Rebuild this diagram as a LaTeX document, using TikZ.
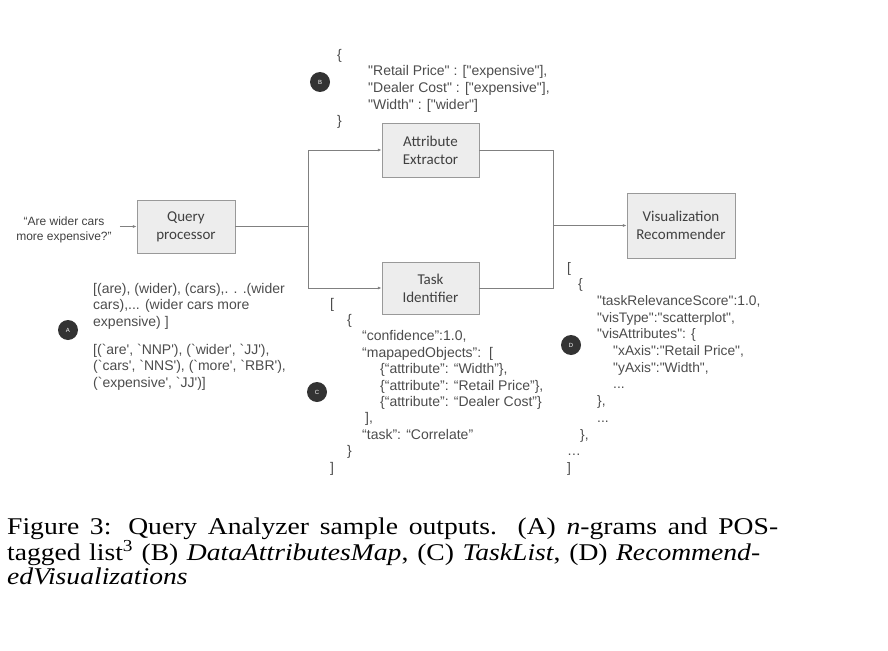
\documentclass[tikz,border=0pt]{standalone}
\usepackage{fontspec}
\usepackage{tikz}
\usetikzlibrary{arrows.meta}
\newfontfamily\jsonfont{Liberation Sans}
\newfontfamily\boxfont{Carlito}
\newfontfamily\capfont[FakeStretch=1.15]{Liberation Serif}

\begin{document}
\begin{tikzpicture}[x=1pt,y=-1pt,
  blk/.style={draw=black!40,fill=black!7,text=black!75,align=center,inner sep=0pt,font=\boxfont\fontsize{15}{18}\selectfont},
  json/.style={anchor=base west,align=left,inner sep=0pt,text=black!70,font=\jsonfont\fontsize{14}{16.7}\selectfont},
  tag/.style={circle,fill=black!80,text=white,minimum size=20pt,inner sep=0pt,font=\jsonfont\fontsize{6}{6}\selectfont},
  conn/.style={draw=black!50,line width=0.8pt},
  arr/.style={-{Latex[length=4pt,width=3pt]}}]
\useasboundingbox (0,0) rectangle (888,650);

\node[blk,minimum width=98pt,minimum height=53pt] (qp) at (186,226.5) {Query\\processor};
\node[blk,minimum width=97pt,minimum height=54pt] (ae) at (430.5,150) {Attribute\\Extractor};
\node[blk,minimum width=97pt,minimum height=52pt] (ti) at (430.5,288) {Task\\Identifier};
\node[blk,minimum width=108pt,minimum height=65pt] (vr) at (681,225.5) {Visualization\\Recommender};
\node[font=\jsonfont\fontsize{12}{15}\selectfont,text=black!75,align=center,inner sep=8pt] (query) at (64,229.5) {“Are wider cars\\more expensive?”};

\coordinate (split) at (308,226.5);
\coordinate (join) at (553,225.5);
\draw[conn,arr] (query.east |- qp.west) -- (qp.west);
\draw[conn] (qp.east) -- (split);
\draw[conn,arr] (split) |- (ae.west);
\draw[conn,arr] (split) |- (ti.west);
\draw[conn] (ae.east) -| (join);
\draw[conn] (ti.east) -| (join);
\draw[conn,arr] (join) -- (vr.west);

% sample outputs (base = last line)
\node[json] (ngrams) at (93,326.4) {[(are), (wider), (cars),. . .(wider\\cars),... (wider cars more\\expensive) ]};
\node[json] (postags) at (93,387.4) {[(`are', `NNP'), (`wider', `JJ'),\\(`cars', `NNS'), (`more', `RBR'),\\(`expensive', `JJ')]};
\node[json] (attrmap) at (337,125.8) {\{\\
\hspace*{31pt}"Retail Price" : ["expensive"],\\
\hspace*{31pt}"Dealer Cost" : ["expensive"],\\
\hspace*{31pt}"Width" : ["wider"]\\
\}};
\node[json,font=\jsonfont\fontsize{14}{16.4}\selectfont] (tasklist) at (330,472) {[\\
\hspace*{17pt}\{\\
\hspace*{32pt}“confidence”:1.0,\\
\hspace*{32pt}“mapapedObjects”:\ \ [\\
\hspace*{50pt}\{“attribute”: “Width”\},\\
\hspace*{50pt}\{“attribute”: “Retail Price”\},\\
\hspace*{50pt}\{“attribute”: “Dealer Cost”\}\\
\hspace*{35pt}],\\
\hspace*{32pt}“task”: “Correlate”\\
\hspace*{17pt}\}\\
]};
\node[json,font=\jsonfont\fontsize{13.8}{16.7}\selectfont] (recvis) at (567,472.4) {[\\
\hspace*{11pt}\{\\
\hspace*{30pt}"taskRelevanceScore":1.0,\\
\hspace*{30pt}"visType":"scatterplot",\\
\hspace*{30pt}"visAttributes": \{\\
\hspace*{46pt}"xAxis":"Retail Price",\\
\hspace*{46pt}"yAxis":"Width",\\
\hspace*{46pt}...\\
\hspace*{30pt}\},\\
\hspace*{30pt}...\\
\hspace*{13pt}\},\\
…\\
]};

\node[tag] (tagA) at (68,330) {A};
\node[tag] (tagB) at (320,82) {B};
\node[tag] (tagC) at (317,392) {C};
\node[tag] (tagD) at (571,345) {D};

\node[anchor=base west,align=left,inner sep=0pt,font=\capfont\fontsize{24}{23.5}\selectfont] (caption) at (7,584)
 {\makebox[771pt][s]{Figure 3: Query Analyzer sample outputs. (A) \textit{n}-grams and POS-}\\
 \makebox[753pt][s]{tagged list\textsuperscript{3} (B) \textit{DataAttributesMap}, (C) \textit{TaskList}, (D) \textit{Recommend-}}\\
 \textit{edVisualizations}};
\end{tikzpicture}
\end{document}
